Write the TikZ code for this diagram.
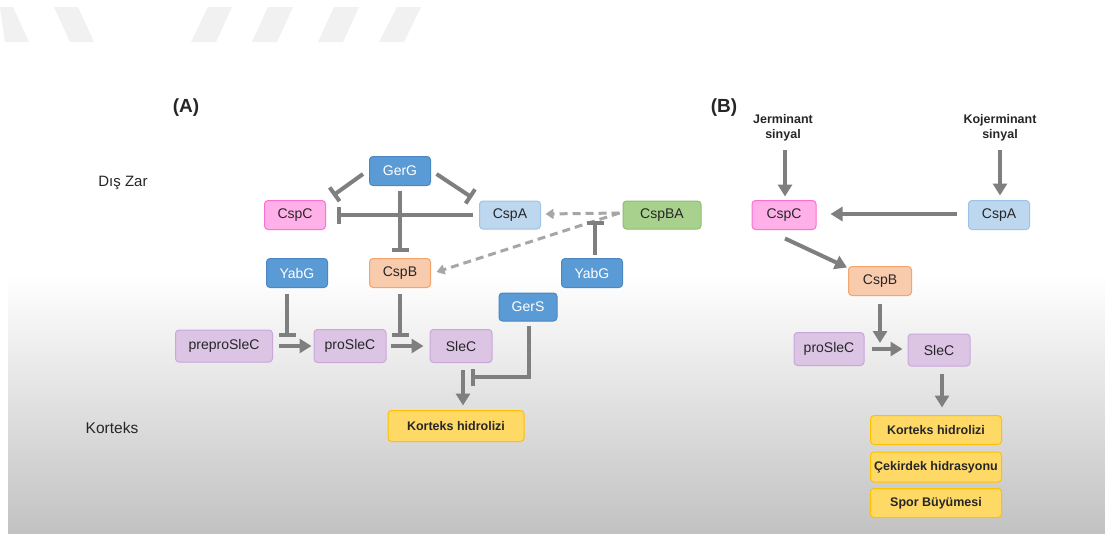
\documentclass[tikz,border=0pt]{standalone}
\usepackage{fontspec}
\setmainfont{Liberation Sans}
\usetikzlibrary{arrows.meta,calc}
\definecolor{txt}{HTML}{262626}
\definecolor{conn}{HTML}{7F7F7F}
\definecolor{dconn}{HTML}{A6A6A6}
\definecolor{blF}{HTML}{5B9BD5}
\definecolor{blD}{HTML}{4A87C4}
\definecolor{pkF}{HTML}{FFB0E8}
\definecolor{pkD}{HTML}{FF6FD2}
\definecolor{lbF}{HTML}{BDD7EE}
\definecolor{lbD}{HTML}{9DC3E6}
\definecolor{grF}{HTML}{A9D18E}
\definecolor{grD}{HTML}{8CBF6E}
\definecolor{orF}{HTML}{F8CBAD}
\definecolor{orD}{HTML}{F4A36B}
\definecolor{puF}{HTML}{DCC4E4}
\definecolor{puD}{HTML}{C9A7DB}
\definecolor{yeF}{HTML}{FFD966}
\definecolor{yeD}{HTML}{FFC000}
\definecolor{wm}{HTML}{F1F1F1}
\definecolor{bot}{HTML}{C2C2C2}
\tikzset{
  box/.style={rounded corners=3.5pt, line width=1pt, inner sep=0pt,
    font=\fontsize{14}{16}\selectfont, text=txt},
  bluebox/.style={box, fill=blF, draw=blD, text=white},
  pinkbox/.style={box, fill=pkF, draw=pkD},
  lbluebox/.style={box, fill=lbF, draw=lbD},
  greenbox/.style={box, fill=grF, draw=grD},
  orangebox/.style={box, fill=orF, draw=orD},
  purplebox/.style={box, fill=puF, draw=puD},
  yellowbox/.style={box, fill=yeF, draw=yeD, font=\bfseries\fontsize{12.5}{15}\selectfont},
  lbl/.style={text=txt, inner sep=0pt},
  act/.style={draw=conn, line width=4pt, -{Triangle[width=14pt,length=12pt]}},
  inh/.style={draw=conn, line width=4pt, -{Bar[width=17pt]}},
  dsh/.style={draw=dconn, line width=3pt, dash pattern=on 8pt off 5pt,
    -{Triangle[width=10pt,length=8pt]}},
}
\begin{document}
\begin{tikzpicture}[x=1pt,y=-1pt]
\useasboundingbox (0,0) rectangle (1105,533);
\fill[white] (0,0) rectangle (1105,533);
% watermark
\fill[wm] (0,7) -- (13,7) -- (29,42) -- (5,42) -- cycle;
\fill[wm] (54,7) -- (78,7) -- (94,42) -- (70,42) -- cycle;
\fill[wm] (208,7) -- (232,7) -- (216,42) -- (191,42) -- cycle;
\fill[wm] (268,7) -- (293,7) -- (277,42) -- (252,42) -- cycle;
\fill[wm] (334,7) -- (359,7) -- (343,42) -- (318,42) -- cycle;
\fill[wm] (397,7) -- (421,7) -- (404,42) -- (379,42) -- cycle;
% gradient
\shade[top color=white, bottom color=bot] (8,275) rectangle (1105,533);

% labels
\node[lbl, font=\bfseries\fontsize{19}{22}\selectfont] (labA) at (186,108) {(A)};
\node[lbl, font=\bfseries\fontsize{19}{22}\selectfont] (labB) at (724,108) {(B)};
\node[lbl, font=\fontsize{15}{18}\selectfont] (diszar) at (123,183) {Dış Zar};
\node[lbl, font=\fontsize{15.5}{18}\selectfont] (korteks) at (112,428) {Korteks};

% ---- (A) nodes
\node[bluebox, minimum width=61pt, minimum height=29pt] (gerg) at (400,171) {GerG};
\node[pinkbox, minimum width=61pt, minimum height=29pt] (cspcA) at (295,215) {CspC};
\node[lbluebox, minimum width=61pt, minimum height=28pt] (cspaA) at (510,215) {CspA};
\node[greenbox, minimum width=78pt, minimum height=28pt] (cspba) at (662,215) {CspBA};
\node[bluebox, minimum width=61pt, minimum height=29pt] (yabg1) at (297,273) {YabG};
\node[orangebox, minimum width=61pt, minimum height=29pt] (cspbA) at (400,273) {CspB};
\node[bluebox, minimum width=61pt, minimum height=29pt] (yabg2) at (592,273) {YabG};
\node[bluebox, minimum width=58pt, minimum height=28pt] (gers) at (528,307) {GerS};
\node[purplebox, minimum width=97pt, minimum height=32pt] (prepro) at (224,346) {preproSleC};
\node[purplebox, minimum width=72pt, minimum height=33pt] (proA) at (350,346) {proSleC};
\node[purplebox, minimum width=62pt, minimum height=33pt] (slecA) at (461,346) {SleC};
\node[yellowbox, minimum width=136pt, minimum height=31pt] (kortA) at (456,426) {Korteks hidrolizi};

% ---- (A) connectors
\draw[inh] ($(gerg.west)+(-6,3)$) -- ($(cspcA.north)+(38,-4.5)$);
\draw[inh] ($(gerg.east)+(5.5,3)$) -- ($(cspaA.north)+(-38,-3)$);
\draw[inh] ($(cspaA.west)+(-6.5,0)$) -- ($(cspcA.east)+(10.5,0)$);
\draw[inh] ($(gerg.south)+(0,4.5)$) -- ($(cspbA.north)+(0,-6.5)$);
\coordinate (barL) at (287,337);
\coordinate (barM) at (400,337);
\draw[inh] ($(yabg1.south)+(-10,5.5)$) -- (barL);
\draw[inh] ($(cspbA.south)+(0,5.5)$) -- (barM);
\draw[act] ($(prepro.east)+(5.5,0)$) -- ($(proA.west)+(-2,0)$);
\draw[act] ($(proA.east)+(4,0)$) -- ($(slecA.west)+(-6,0)$);
\coordinate (barG) at (471,377);
\draw[inh] ($(gers.south)+(1,4)$) |- (barG);
\draw[act] ($(slecA.south)+(2,6.5)$) -- ($(kortA.north)+(7,-4.5)$);
% dashed
\coordinate (dstart) at ($(cspba.west)+(-3,-2)$);
\draw[dsh] (dstart) -- ($(cspaA.east)+(4.5,-1)$);
\draw[dsh] (dstart) -- ($(cspbA.east)+(5.5,-1)$);
\coordinate (barY) at (595,221);
\draw[inh] ($(yabg2.north)+(3,-3)$) -- (barY);

% ---- (B)
\node[lbl, font=\bfseries\fontsize{12.5}{15.5}\selectfont, align=center] (jer) at (783,128) {Jerminant\\sinyal};
\node[lbl, font=\bfseries\fontsize{12.5}{15.5}\selectfont, align=center] (kojer) at (1000,128) {Kojerminant\\sinyal};
\node[pinkbox, minimum width=64pt, minimum height=29pt] (cspcB) at (784,215) {CspC};
\node[lbluebox, minimum width=61pt, minimum height=29pt] (cspaB) at (999,215) {CspA};
\node[orangebox, minimum width=63pt, minimum height=29pt] (cspbB) at (880,281) {CspB};
\node[purplebox, minimum width=70pt, minimum height=33pt] (proB) at (829,349) {proSleC};
\node[purplebox, minimum width=62pt, minimum height=32pt] (slecB) at (939,350) {SleC};
\node[yellowbox, minimum width=131pt, minimum height=29pt] (kortB) at (936,430) {Korteks hidrolizi};
\node[yellowbox, minimum width=131pt, minimum height=30pt] (cekB) at (936,467) {Çekirdek hidrasyonu};
\node[yellowbox, minimum width=131pt, minimum height=29pt] (sporB) at (936,503) {Spor Büyümesi};

\coordinate (jerS) at (785,150);
\coordinate (kojerS) at (1000,150);
\draw[act] (jerS) -- ($(cspcB.north)+(1,-3.5)$);
\draw[act] (kojerS) -- ($(cspaB.north)+(1,-4.5)$);
\draw[act] ($(cspaB.west)+(-11.5,-1)$) -- ($(cspcB.east)+(14,-1)$);
\draw[act] ($(cspcB.south)+(1,8.5)$) -- ($(cspbB.north)+(-33,1.5)$);
\coordinate (arrB) at (880,343);
\draw[act] ($(cspbB.south)+(0,7.5)$) -- (arrB);
\draw[act] ($(proB.east)+(7,0)$) -- ($(slecB.west)+(-5,-1)$);
\draw[act] ($(slecB.south)+(3,7)$) -- ($(kortB.north)+(6,-7.5)$);
\end{tikzpicture}
\end{document}
